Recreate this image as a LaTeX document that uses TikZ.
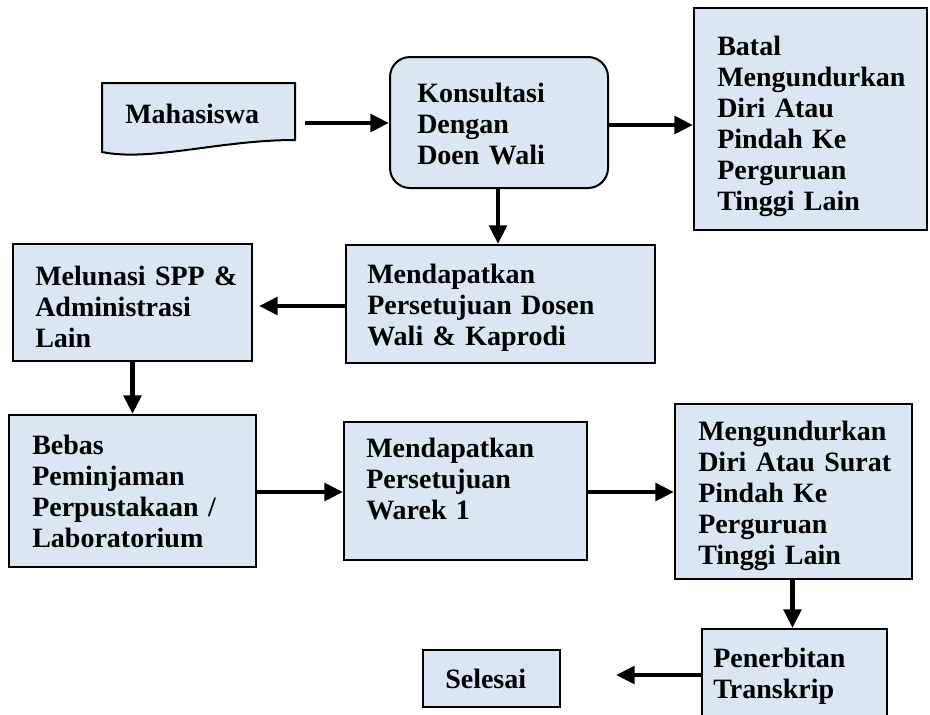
\documentclass[tikz,border=0pt]{standalone}
\usepackage{fontspec}
\setmainfont{Liberation Serif}
\usetikzlibrary{arrows.meta}
\definecolor{boxfill}{HTML}{DCE6F2}
\newcommand{\boxfont}{\bfseries\fontsize{21}{23.25}\selectfont\spaceskip=3.2pt\relax}
\tikzset{
  box/.style={draw=black, line width=1.5pt, fill=boxfill, rectangle, inner sep=0pt},
  txt/.style={inner sep=0pt, align=left, text width=225pt, font=\boxfont, anchor=base west},
  arr/.style={line width=3.6pt, -{Triangle[length=14pt, width=13pt]}},
}
\begin{document}
\begin{tikzpicture}[x=0.75pt, y=-0.75pt]
\useasboundingbox (0,0) rectangle (930,714);
\clip (0,0) rectangle (930,714);
% Mahasiswa (document shape)
\draw[line width=1.5pt, fill=boxfill] (102,83) -- (295,83) -- (295,140)
   .. controls (220,140) and (150,162) .. (102,152) -- cycle;
\node[minimum width=193*0.75pt, minimum height=69*0.75pt, inner sep=0pt] (mah) at (198.5,117.5) {};
\node[txt] (maht) at (125,123) {Mahasiswa};
% boxes
\node[box, rounded corners=15pt, minimum width=218*0.75pt, minimum height=131*0.75pt] (kon) at (499,122.5) {};
\node[box, minimum width=233*0.75pt, minimum height=222*0.75pt] (bat) at (810.5,119) {};
\node[box, minimum width=309*0.75pt, minimum height=118*0.75pt] (per) at (500.5,304) {};
\node[box, minimum width=239*0.75pt, minimum height=117*0.75pt] (mel) at (132.5,302.5) {};
\node[box, minimum width=247*0.75pt, minimum height=152*0.75pt] (beb) at (132.5,491) {};
\node[box, minimum width=243*0.75pt, minimum height=138*0.75pt] (war) at (465.5,491) {};
\node[box, minimum width=237*0.75pt, minimum height=175*0.75pt] (men) at (793.5,491.5) {};
\node[box, minimum width=185*0.75pt, minimum height=101*0.75pt] (pen) at (794.5,679.5) {};
\node[box, minimum width=137*0.75pt, minimum height=57*0.75pt] (sel) at (491.5,678.5) {};
% texts
\node[txt] (kont) at (417,102) {Konsultasi\\Dengan\\Doen Wali};
\node[txt] (batt) at (717,55) {Batal\\Mengundurkan\\Diri Atau\\Pindah Ke\\Perguruan\\Tinggi Lain};
\node[txt] (pert) at (367,283) {Mendapatkan\\Persetujuan Dosen\\Wali \& Kaprodi};
\node[txt] (melt) at (35,285) {Melunasi SPP \&\\Administrasi\\Lain};
\node[txt] (bebt) at (32,454) {Bebas\\Peminjaman\\Perpustakaan /\\Laboratorium};
\node[txt] (wart) at (366,457) {Mendapatkan\\Persetujuan\\Warek 1};
\node[txt] (ment) at (698,440) {Mengundurkan\\Diri Atau Surat\\Pindah Ke\\Perguruan\\Tinggi Lain};
\node[txt] (pent) at (713,667) {Penerbitan\\Transkrip};
\node[txt] (selt) at (445,688) {Selesai};
% connector anchor rows
\coordinate (r1) at (0,123);
\coordinate (r1b) at (0,125);
\coordinate (r2) at (0,306);
\coordinate (r3) at (0,492);
\coordinate (r4) at (0,675);
% connectors
\draw[arr] ([xshift=7.5pt]mah.east |- r1) -- (kon.west |- r1);
\draw[arr] (kon.east |- r1b) -- (bat.west |- r1b);
\draw[arr] ([xshift=-0.75pt]kon.south) -- ([xshift=-0.75pt]kon.south |- per.north);
\draw[arr] (per.west |- r2) -- ([xshift=4.5pt]mel.east |- r2);
\draw[arr] (mel.south) -- (beb.north);
\draw[arr] (beb.east |- r3) -- (war.west |- r3);
\draw[arr] (war.east |- r3) -- (men.west |- r3);
\draw[arr] ([xshift=-0.75pt]men.south) -- ([xshift=-0.75pt]men.south |- pen.north);
\draw[arr] (pen.west |- r4) -- ([xshift=41.25pt]sel.east |- r4);
\end{tikzpicture}
\end{document}
